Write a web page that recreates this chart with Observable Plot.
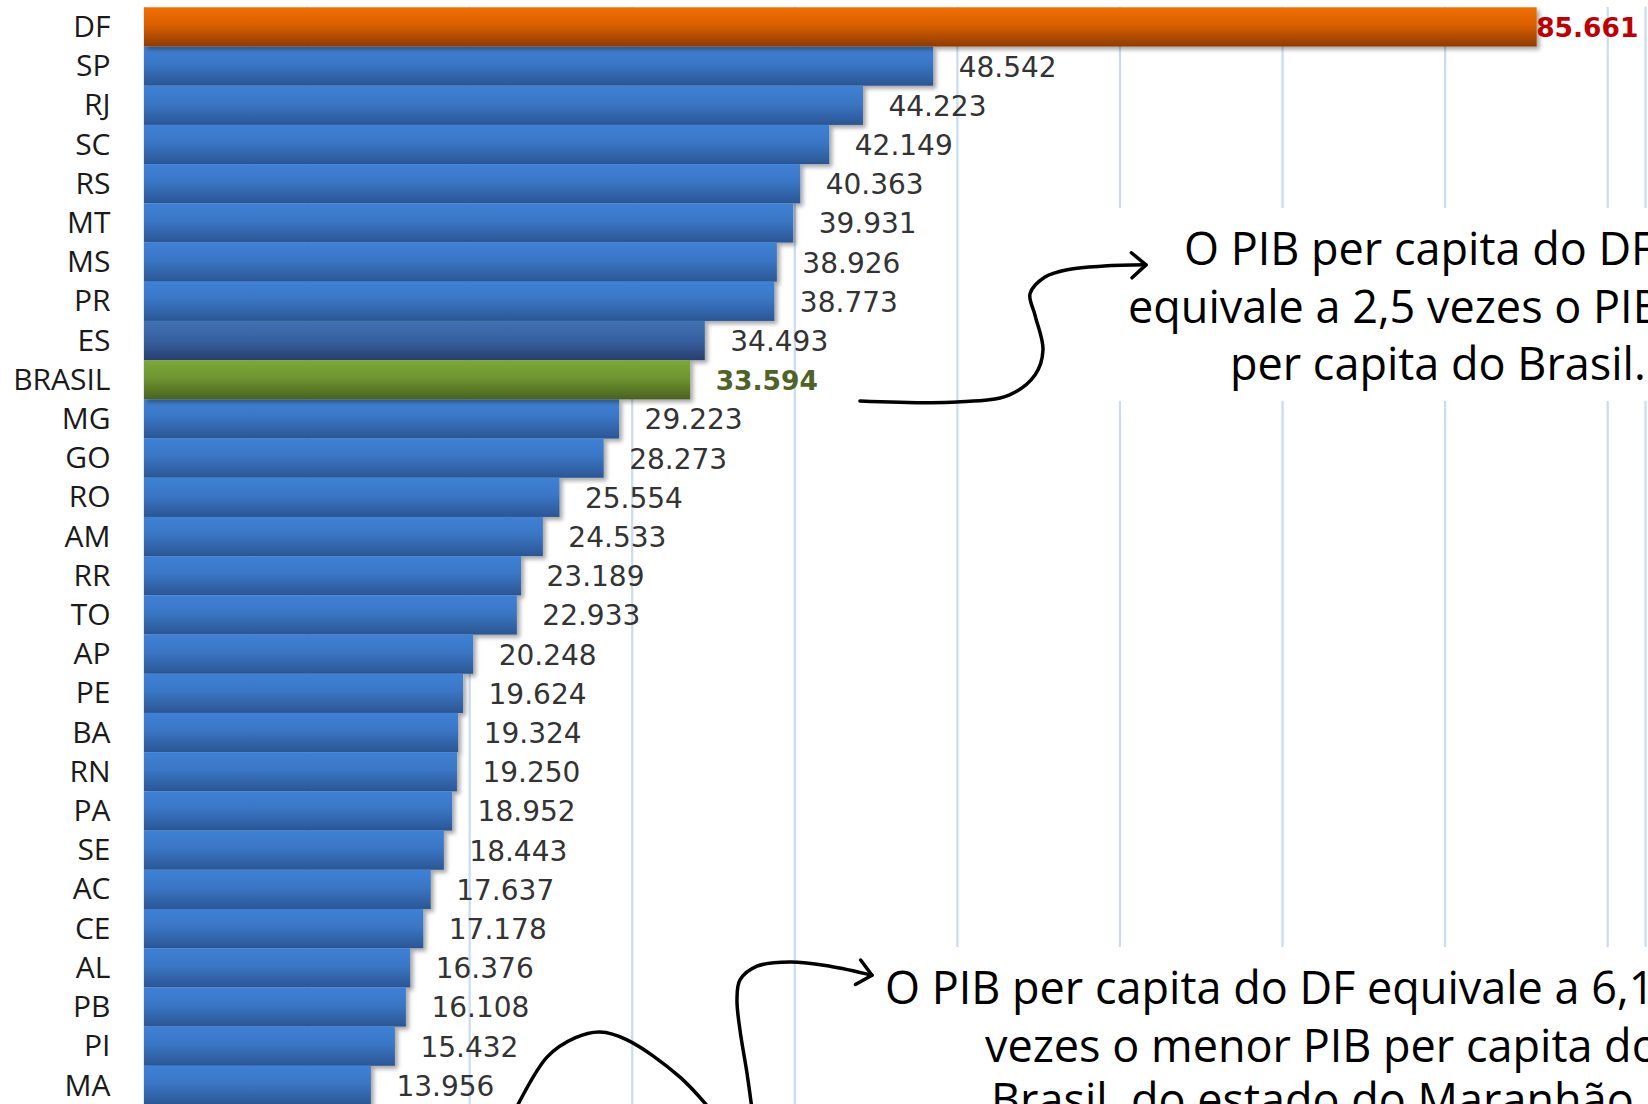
<!DOCTYPE html>
<html>
<head>
<meta charset="utf-8">
<script src="https://cdn.jsdelivr.net/npm/d3@7"></script>
<script src="https://cdn.jsdelivr.net/npm/@observablehq/plot@0.6"></script>
<style>
  html, body { margin: 0; padding: 0; background: #ffffff; overflow: hidden; }
  #chart svg { display: block; max-width: none; }
</style>
</head>
<body>
<div id="chart"></div>
<script>
// ---- data ----
const states = ["DF","SP","RJ","SC","RS","MT","MS","PR","ES","BRASIL","MG","GO","RO","AM","RR","TO","AP","PE","BA","RN","PA","SE","AC","CE","AL","PB","PI","MA"];
const values = [85661,48542,44223,42149,40363,39931,38926,38773,34493,33594,29223,28273,25554,24533,23189,22933,20248,19624,19324,19250,18952,18443,17637,17178,16376,16108,15432,13956];
const gridTicks = [10000,20000,30000,40000,50000,60000,70000,80000,90000];

// annotation texts (value, row) anchors
const noteTopLines = ["O PIB per capita do DF", "equivale a 2,5 vezes o PIB", "per capita do Brasil..."];
const noteTopX = [63968, 60524, 66798];
const noteTopRow = [6.17, 7.65, 9.10];
const noteBotLines = ["O PIB per capita do DF equivale a 6,1", "vezes o menor PIB per capita do", "Brasil, do estado do Maranhão..."];
const noteBotX = [45578, 51728, 52097];
const noteBotRow = [25.02, 26.50, 27.87];

// annotation arrows as [value, row]
const arrowTop = [[44040,10.04],[50006,10.07],[53205,9.89],[54804,9.38],[55296,8.74],[54804,7.85],[54497,7.31],[55419,6.88],[56957,6.68],[59048,6.60],[61631,6.57]];
const arrowBottom = [[37459,28.3],[37090,27.19],[36659,26.09],[36474,25.32],[36659,24.81],[37705,24.46],[39734,24.35],[42195,24.46],[44778,24.69]];
const humpCurve = [[22500,28.4],[24788,26.78],[26510,26.29],[28048,26.14],[29709,26.34],[32969,27.29],[35400,28.4]];

const data = states.map((s, i) => ({name: s, value: values[i]}));
const fmt = d3.formatLocale({decimal: ",", thousands: ".", grouping: [3], currency: ["", ""]}).format(",d");

const isNormal = d => d.name !== "DF" && d.name !== "BRASIL" && d.name !== "ES";

function defs() {
  const d = d3.create("svg:defs");
  const grads = {
    gBlue: [["0%","#3f81d5"],["45%","#3a76c5"],["100%","#2b5693"]],
    gES: [["0%","#4171b2"],["50%","#3760a0"],["100%","#283f6e"]],
    gOrange: [["0%","#f26e00"],["45%","#d96000"],["100%","#8f3b00"]],
    gGreen: [["0%","#7ca83a"],["45%","#6f9531"],["100%","#4a6220"]]
  };
  for (const [id, stops] of Object.entries(grads)) {
    const g = d.append("linearGradient").attr("id", id).attr("x1", 0).attr("y1", 0).attr("x2", 0).attr("y2", 1);
    for (const [o, c] of stops) g.append("stop").attr("offset", o).attr("stop-color", c);
  }
  const f = d.append("filter").attr("id", "shadow").attr("x", "-5%").attr("y", "-20%").attr("width", "110%").attr("height", "160%");
  f.append("feDropShadow").attr("dx", 3).attr("dy", 3).attr("stdDeviation", 2).attr("flood-color", "#000").attr("flood-opacity", 0.35);
  return d.node();
}

function boxes(index, scales) {
  const x = scales.x, y = scales.y;
  const y0 = y(states[0]), step = y(states[1]) - y(states[0]);
  const py = r => y0 + r * step;
  const g = d3.create("svg:g");
  const rects = [[56342, 95000, 5.12, 10.04], [45270, 95000, 23.97, 28.6]];
  for (const [a, b, r1, r2] of rects) {
    g.append("rect").attr("x", x(a)).attr("y", py(r1)).attr("width", x(b) - x(a)).attr("height", py(r2) - py(r1)).attr("fill", "white");
  }
  return g.node();
}

function annotations(index, scales) {
  const x = scales.x, y = scales.y;
  const y0 = y(states[0]), step = y(states[1]) - y(states[0]);
  const py = r => y0 + r * step;
  const g = d3.create("svg:g");
  const line = d3.line().x(d => x(d[0])).y(d => py(d[1])).curve(d3.curveCatmullRom.alpha(0.5));
  const drawCurve = (pts, head) => {
    g.append("path").attr("d", line(pts)).attr("fill", "none").attr("stroke", "#000")
      .attr("stroke-width", 3.5).attr("stroke-linecap", "round").attr("stroke-linejoin", "round");
    if (head) {
      const n = pts.length;
      const tx = x(pts[n-1][0]), ty = py(pts[n-1][1]);
      const sx = x(pts[n-2][0]), sy = py(pts[n-2][1]);
      const ang = Math.atan2(ty - sy, tx - sx);
      const L = 19, spread = 0.72;
      const a1 = ang + Math.PI - spread, a2 = ang + Math.PI + spread;
      g.append("path")
        .attr("d", `M${tx + L*Math.cos(a1)},${ty + L*Math.sin(a1)}L${tx},${ty}L${tx + L*Math.cos(a2)},${ty + L*Math.sin(a2)}`)
        .attr("fill", "none").attr("stroke", "#000").attr("stroke-width", 3.5)
        .attr("stroke-linecap", "round").attr("stroke-linejoin", "round");
    }
  };
  drawCurve(arrowTop, true);
  drawCurve(arrowBottom, true);
  drawCurve(humpCurve, false);
  const writeLines = (lines, xs, rows) => {
    lines.forEach((t, i) => {
      g.append("text").attr("x", x(xs[i])).attr("y", py(rows[i])).attr("dy", "0.36em")
        .attr("font-family", "'Open Sans', sans-serif").attr("font-size", 45).attr("fill", "#000")
        .attr("text-anchor", "start").text(t);
    });
  };
  writeLines(noteTopLines, noteTopX, noteTopRow);
  writeLines(noteBotLines, noteBotX, noteBotRow);
  return g.node();
}

const chart = Plot.plot({
  width: 1648,
  height: 1104,
  marginLeft: 144,
  marginRight: 3,
  marginTop: 7,
  marginBottom: 0,
  style: {fontFamily: "'Open Sans', sans-serif", fontSize: "30px", color: "#1a1a1a", background: "white"},
  x: {domain: [0, 90000], range: [144, 1607.2], axis: null},
  y: {domain: states, range: [7.3, 1105], padding: 0, round: false, tickSize: 0, tickPadding: 34, label: null},
  marks: [
    defs,
    Plot.ruleX(gridTicks, {stroke: "#c9dcf2", strokeWidth: 2.2}),
    Plot.ruleX([0], {stroke: "#c9dcf2", strokeWidth: 2}),
    Plot.frame({anchor: "right", stroke: "#c9dcf2", strokeWidth: 2.2}),
    boxes,
    Plot.barX(data, {filter: isNormal, x: "value", y: "name", fill: "url(#gBlue)"}),
    Plot.barX(data, {filter: d => d.name === "ES", x: "value", y: "name", fill: "url(#gES)"}),
    Plot.barX(data, {filter: d => d.name === "BRASIL", x: "value", y: "name", fill: "url(#gGreen)"}),
    Plot.barX(data, {filter: d => d.name === "DF", x: "value", y: "name", fill: "url(#gOrange)"}),
    Plot.text(data, {filter: d => d.name !== "DF" && d.name !== "BRASIL", x: "value", y: "name", text: d => fmt(d.value),
      textAnchor: "start", dx: 25, dy: 1, fontFamily: "DejaVu Sans", fontSize: 28, fill: "#333333"}),
    Plot.text(data, {filter: d => d.name === "BRASIL", x: "value", y: "name", text: d => fmt(d.value),
      textAnchor: "start", dx: 25, dy: 1, fontFamily: "DejaVu Sans", fontSize: 26.5, fontWeight: "bold", fill: "#4f6228"}),
    Plot.text(data, {filter: d => d.name === "DF", x: "value", y: "name", text: d => fmt(d.value),
      textAnchor: "start", dx: -1, dy: 1, fontFamily: "DejaVu Sans", fontSize: 26.5, fontWeight: "bold", fill: "#c00000"}),
    annotations
  ]
});

// soft drop shadow on bars
chart.querySelectorAll('g[aria-label="bar"]').forEach(g => g.setAttribute("filter", "url(#shadow)"));
document.getElementById("chart").appendChild(chart);
</script>
</body>
</html>
